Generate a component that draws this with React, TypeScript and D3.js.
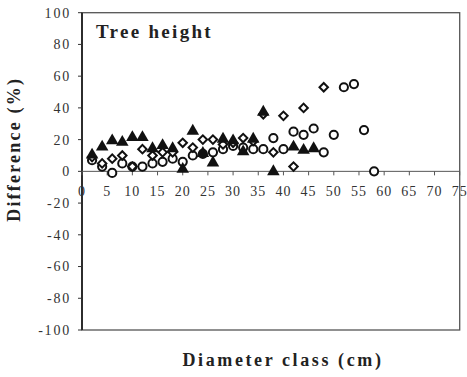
import React from "react";
import * as d3 from "d3";

// Diameter class midpoints (cm) and differences (%) for each series
const triangleX = [2, 4, 6, 8, 10, 12, 14, 16, 18, 20, 22, 24, 26, 28, 30, 32, 34, 36, 38, 42, 44, 46];
const triangleY = [11, 16, 20, 19, 22, 22, 15, 17, 15, 2, 26, 12, 6, 21, 20, 13, 21, 38, 0.5, 16, 14, 15];

const diamondX = [2, 4, 6, 8, 10, 12, 14, 16, 18, 20, 22, 24, 26, 28, 30, 32, 34, 36, 38, 40, 42, 44, 48];
const diamondY = [9, 5, 8, 10, 3, 14, 10, 12, 12, 18, 15, 20, 20, 17, 18, 21, 19, 36, 12, 35, 3, 40, 53];

const circleX = [2, 4, 6, 8, 10, 12, 14, 16, 18, 20, 22, 24, 26, 28, 30, 32, 34, 36, 38, 40, 42, 44, 46, 48, 50, 52, 54, 56, 58];
const circleY = [7, 3, -1, 5, 3, 3, 5, 6, 8, 6, 10, 11, 12, 14, 16, 15, 14, 14, 21, 14, 25, 23, 27, 12, 23, 53, 55, 26, 0];

const xTicks = d3.range(0, 80, 5);
const yTicks = d3.range(-100, 120, 20);

const W = 467;
const H = 377;
const left = 82;
const right = 459.7;
const top = 12.7;
const bottom = 330;

const serif = "'Liberation Serif', 'Times New Roman', Times, serif";

export default function App() {
  const x = d3.scaleLinear().domain([0, 75]).range([left, right]);
  const y = d3.scaleLinear().domain([-100, 100]).range([bottom, top]);

  const tri = d3.symbol().type(d3.symbolTriangle).size(68);
  const dia = d3.symbol().type(d3.symbolSquare).size(36);

  return (
    <svg
      width={W}
      height={H}
      style={{ position: "absolute", left: 0, top: 0, background: "#fff" }}
    >
      {/* plot frame */}
      <rect x={left} y={top} width={right - left} height={bottom - top} fill="none" stroke="#555" strokeWidth={1.3} />
      <line x1={left} x2={left} y1={top} y2={bottom} stroke="#222" strokeWidth={1.8} />
      {/* zero line */}
      <line x1={left} x2={right} y1={y(0)} y2={y(0)} stroke="#555" strokeWidth={1} />

      {/* y ticks */}
      {yTicks.map((t) => (
        <g key={"y" + t}>
          <line x1={left - 4} x2={left} y1={y(t)} y2={y(t)} stroke="#333" strokeWidth={1} />
          <text
            x={left - 11}
            y={y(t)}
            dy="0.35em"
            textAnchor="end"
            fontFamily={serif}
            fontSize={14}
            letterSpacing={1.8}
            fill="#333"
          >
            {t}
          </text>
        </g>
      ))}

      {/* x ticks on the zero line */}
      {xTicks.map((t) => (
        <g key={"x" + t}>
          <line x1={x(t)} x2={x(t)} y1={y(0)} y2={y(0) + 4} stroke="#555" strokeWidth={1} />
          <text
            x={x(t)}
            y={y(0) + 25}
            textAnchor="middle"
            fontFamily={serif}
            fontSize={14}
            letterSpacing={1}
            fill="#333"
          >
            {t}
          </text>
        </g>
      ))}

      {/* series: open circles */}
      {circleX.map((v, i) => (
        <circle key={"c" + i} cx={x(v)} cy={y(circleY[i])} r={4.1} fill="#fff" stroke="#111" strokeWidth={2} />
      ))}
      {/* series: open diamonds */}
      {diamondX.map((v, i) => (
        <path
          key={"d" + i}
          d={dia() || ""}
          transform={`translate(${x(v)},${y(diamondY[i])}) rotate(45)`}
          fill="#fff"
          stroke="#111"
          strokeWidth={2}
        />
      ))}
      {/* series: filled triangles */}
      {triangleX.map((v, i) => (
        <path
          key={"t" + i}
          d={tri() || ""}
          transform={`translate(${x(v)},${y(triangleY[i]) + 1})`}
          fill="#111"
        />
      ))}

      {/* panel title */}
      <text x={96} y={38} fontFamily={serif} fontWeight="bold" fontSize={19} letterSpacing={2.3} fill="#222">
        Tree height
      </text>

      {/* axis titles */}
      <text
        x={283}
        y={366}
        textAnchor="middle"
        fontFamily={serif}
        fontWeight="bold"
        fontSize={18}
        letterSpacing={2.6}
        fill="#222"
      >
        Diameter class (cm)
      </text>
      <text
        transform={`translate(20,${(top + bottom) / 2 - 22}) rotate(-90)`}
        textAnchor="middle"
        fontFamily={serif}
        fontWeight="bold"
        fontSize={18}
        letterSpacing={2.2}
        fill="#222"
      >
        Difference (%)
      </text>
    </svg>
  );
}
